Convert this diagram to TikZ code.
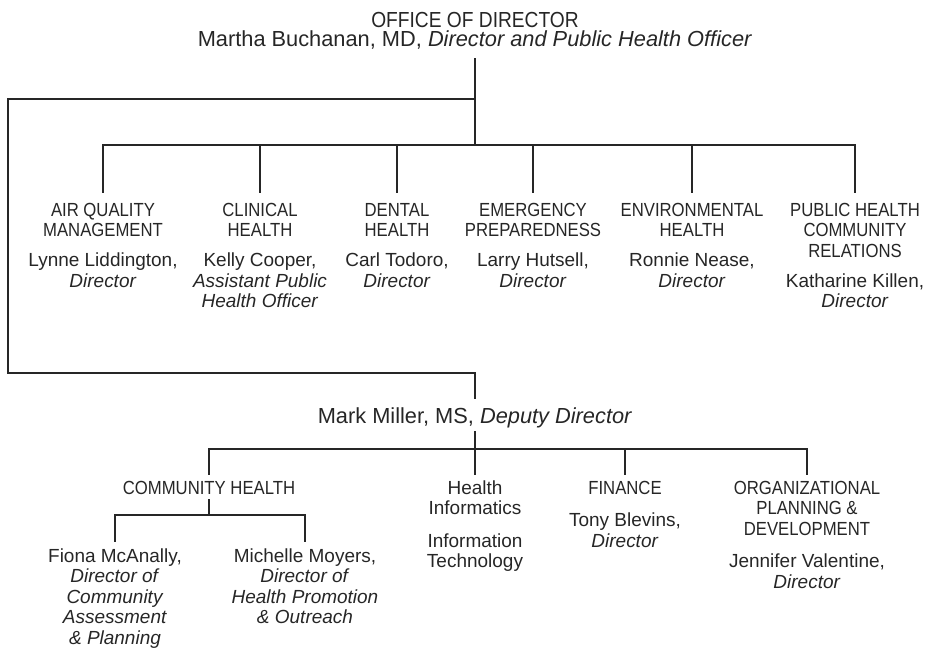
\documentclass[tikz,border=0pt]{standalone}
\usepackage{fontspec}
\setmainfont{Liberation Sans}
\newfontfamily\capsfont[FakeStretch=0.88]{Liberation Sans}
\usepackage{tikz}
\newcommand{\chartfont}{\fontsize{13.5pt}{14.6pt}\selectfont}
\newcommand{\headfont}{\fontsize{15.5pt}{14.2pt}\selectfont}
\tikzstyle{head} = [align=flush center,text width=17cm,inner sep=0pt,anchor=base,font=\headfont,text=black!85]
\tikzstyle{unit} = [align=flush center,text width=5cm,inner sep=0pt,anchor=base,font=\chartfont,text=black!85]
\tikzstyle{dept} = [unit,text height=0.575cm]
\tikzstyle{sub} = [unit,text height=0.475cm]
\tikzstyle{line} = [line width=0.8pt,draw=black!85]

\begin{document}
\begin{tikzpicture}[x=0.025cm, y=-0.025cm]
    \useasboundingbox (0,0) rectangle (927,654);
    % the office on top
    \node[head,text depth=0.775cm] (office) at (475,27) {{\capsfont OFFICE OF DIRECTOR}\\
      Martha Buchanan, MD, \textit{Director and Public Health Officer}};
    % divisions under the director
    \node[dept] (airq) at (103,216) {{\capsfont AIR QUALITY\\ MANAGEMENT}\\[0.24cm]
      Lynne Liddington,\\ \textit{Director}};
    \node[dept] (clin) at (260,216) {{\capsfont CLINICAL\\ HEALTH}\\[0.24cm]
      Kelly Cooper,\\ \textit{Assistant Public}\\ \textit{Health Officer}};
    \node[dept] (dent) at (397,216) {{\capsfont DENTAL\\ HEALTH}\\[0.24cm]
      Carl Todoro,\\ \textit{Director}};
    \node[dept] (emer) at (533,216) {{\capsfont EMERGENCY\\ PREPAREDNESS}\\[0.24cm]
      Larry Hutsell,\\ \textit{Director}};
    \node[dept] (env) at (692,216) {{\capsfont ENVIRONMENTAL\\ HEALTH}\\[0.24cm]
      Ronnie Nease,\\ \textit{Director}};
    \node[dept] (pub) at (855,216) {{\capsfont PUBLIC HEALTH\\ COMMUNITY\\ RELATIONS}\\[0.24cm]
      Katharine Killen,\\ \textit{Director}};
    % deputy and the units under him
    \node[head,text height=0.6cm,text depth=0.2cm] (deputy) at (475,423)
      {Mark Miller, MS, \textit{Deputy Director}};
    \node[sub,text depth=0.125cm] (comm) at (209,494) {\capsfont COMMUNITY HEALTH};
    \node[sub] (info) at (475,494) {Health\\ Informatics\\[0.3cm]
      Information\\ Technology};
    \node[sub] (fin) at (625,494) {{\capsfont FINANCE}\\[0.3cm]
      Tony Blevins,\\ \textit{Director}};
    \node[sub] (org) at (807,494) {{\capsfont ORGANIZATIONAL\\ PLANNING \&\\ DEVELOPMENT}\\[0.3cm]
      Jennifer Valentine,\\ \textit{Director}};
    \node[unit,text height=0.5cm] (fiona) at (115,562) {Fiona McAnally,\\
      \textit{Director of}\\ \textit{Community}\\ \textit{Assessment}\\ \textit{\& Planning}};
    \node[unit,text height=0.5cm] (moyers) at (305,562) {Michelle Moyers,\\
      \textit{Director of}\\ \textit{Health Promotion}\\ \textit{\& Outreach}};
    % branch points
    \coordinate (u0) at (475,99);
    \coordinate (u1) at (475,145);
    \coordinate (ll) at (8,373);
    \coordinate (u2) at (475,449);
    \coordinate (u3) at (209,515);
    % connect the boxes
    \draw [line] (office.south) -- (u1);
    \draw [line] (u1) -| (airq.north);
    \draw [line] (u1) -| (clin.north);
    \draw [line] (u1) -| (dent.north);
    \draw [line] (u1) -| (emer.north);
    \draw [line] (u1) -| (env.north);
    \draw [line] (u1) -| (pub.north);
    \draw [line] (u0) -| (ll) -| (deputy.north);
    \draw [line] (deputy.south) -- (u2);
    \draw [line] (u2) -| (comm.north);
    \draw [line] (u2) -- (info.north);
    \draw [line] (u2) -| (fin.north);
    \draw [line] (u2) -| (org.north);
    \draw [line] (comm.south) -- (u3);
    \draw [line] (u3) -| (fiona.north);
    \draw [line] (u3) -| (moyers.north);
\end{tikzpicture}
\end{document}
